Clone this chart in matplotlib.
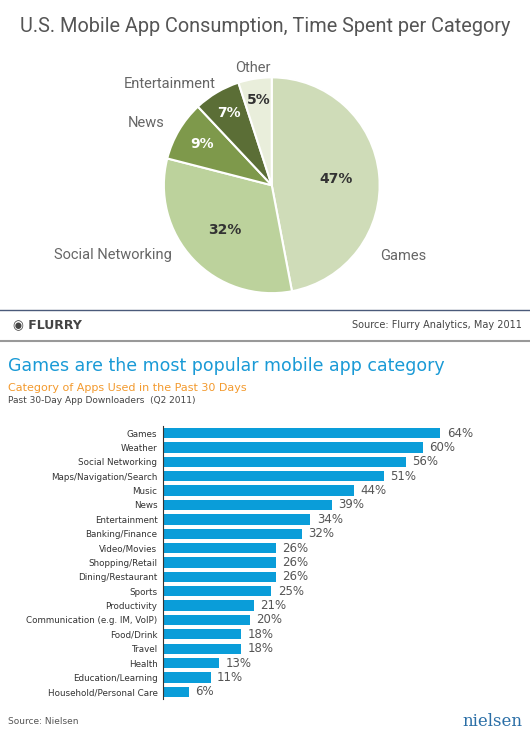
import matplotlib
matplotlib.use("Agg")
import matplotlib.pyplot as plt
import numpy as np

pie_labels = ["Games", "Social Networking", "News", "Entertainment", "Other"]
pie_values = [47, 32, 9, 7, 5]
pie_colors = ["#cfdcb8", "#bcd29c", "#7e994b", "#5b6e36", "#e9eedb"]
pie_text_colors = ["#333333", "#333333", "white", "white", "#333333"]

bar_cats = ["Games", "Weather", "Social Networking", "Maps/Navigation/Search", "Music", "News",
            "Entertainment", "Banking/Finance", "Video/Movies", "Shopping/Retail",
            "Dining/Restaurant", "Sports", "Productivity", "Communication (e.g. IM, VoIP)",
            "Food/Drink", "Travel", "Health", "Education/Learning", "Household/Personal Care"]
bar_vals = [64, 60, 56, 51, 44, 39, 34, 32, 26, 26, 26, 25, 21, 20, 18, 18, 13, 11, 6]

fig = plt.figure(figsize=(5.3, 7.44), dpi=100)
fig.patch.set_facecolor("white")

fig.text(0.5, 0.965, "U.S. Mobile App Consumption, Time Spent per Category", ha="center", va="center",
         fontsize=14.3, color="#555555", family="Roboto")

ax = fig.add_axes([0.309, 0.606, 0.4075, 0.290])
wedges, _ = ax.pie(pie_values, colors=pie_colors, startangle=90, counterclock=False,
                   wedgeprops=dict(edgecolor="white", linewidth=1.5))
ax.set_xlim(-1, 1)
ax.set_ylim(-1, 1)
# label placement (angle in degrees, radius, alignment)
label_ang = [-33, 215, 150, 119, 99]
label_r = [1.2, 1.13, 1.15, 1.07, 1.1]
label_ha = ["left", "right", "right", "right", "center"]
pct_r = [0.6, 0.6, 0.75, 0.78, 0.8]
for w, lab, v, tc, la, lr, lha, pr in zip(wedges, pie_labels, pie_values, pie_text_colors,
                                          label_ang, label_r, label_ha, pct_r):
    a = np.deg2rad((w.theta1 + w.theta2) / 2)
    ax.text(pr*np.cos(a), pr*np.sin(a), f"{v}%", ha="center", va="center", fontsize=10,
            fontweight="bold", color=tc)
    b = np.deg2rad(la)
    ax.text(lr*np.cos(b), lr*np.sin(b), lab, ha=lha, va="center",
            fontsize=10.5, color="#666666", family="Roboto", clip_on=False)
ax.set_aspect("equal")

fig.add_artist(plt.Line2D([0, 1], [0.583, 0.583], color="#4a5a7a", lw=1))
fig.add_artist(plt.Line2D([0, 1], [0.542, 0.542], color="#999999", lw=1.5))
fig.text(0.025, 0.563, "◉ FLURRY", fontsize=9, fontweight="bold", color="#444444", va="center")
fig.text(0.985, 0.563, "Source: Flurry Analytics, May 2011", fontsize=7, color="#444444",
         va="center", ha="right")

fig.text(0.015, 0.508, "Games are the most popular mobile app category", fontsize=12.5,
         color="#1a9ad6", va="center")
fig.text(0.015, 0.479, "Category of Apps Used in the Past 30 Days", fontsize=8, color="#f39a2e", va="center")
fig.text(0.015, 0.462, "Past 30-Day App Downloaders  (Q2 2011)", fontsize=6.5, color="#444444", va="center")

bx = fig.add_axes([0.3075, 0.0605, 0.55, 0.367])
y = np.arange(len(bar_cats))
bx.barh(y, bar_vals, height=0.72, color="#0a9dd9")
bx.set_ylim(len(bar_cats) - 0.5, -0.5)
bx.set_xlim(0, 67.3)
bx.set_yticks(y)
bx.set_yticklabels(bar_cats, fontsize=6.3, color="#333333")
bx.tick_params(axis="y", length=0, pad=4)
bx.set_xticks([])
for s in ["top", "right", "bottom"]:
    bx.spines[s].set_visible(False)
bx.spines["left"].set_color("#333333")
for yi, v in zip(y, bar_vals):
    bx.text(v + 1.5, yi, f"{v}%", va="center", fontsize=8.5, color="#555555", clip_on=False)

fig.text(0.015, 0.03, "Source: Nielsen", fontsize=6.5, color="#555555", va="center")
fig.text(0.985, 0.03, "nielsen", fontsize=12, color="#2a6ea6", va="center", ha="right", family="DejaVu Serif")

fig.savefig("out.png", dpi=100)
